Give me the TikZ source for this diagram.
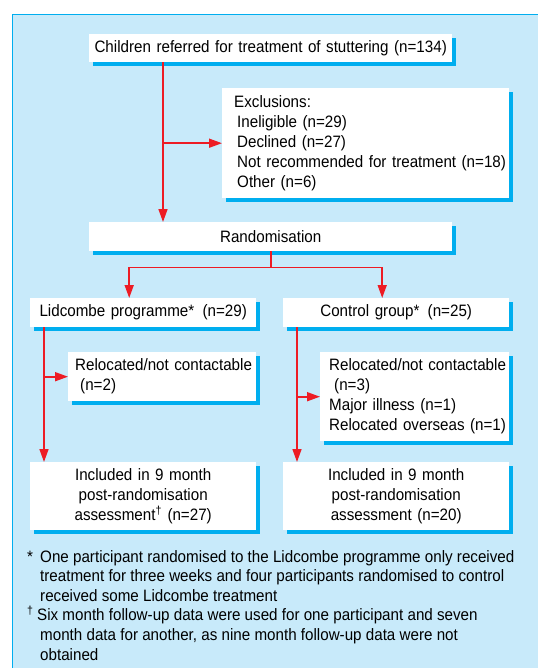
\documentclass[tikz,border=0pt]{standalone}
\usepackage{fontspec}
\setmainfont{Liberation Sans}[FakeStretch=0.92]
\usetikzlibrary{arrows.meta,shadows}
\definecolor{panelblue}{RGB}{200,234,250}
\definecolor{shadecyan}{RGB}{0,174,239}
\definecolor{flowred}{RGB}{237,28,36}
\tikzset{
  box/.style={
    fill=white,
    inner xsep=2pt,
    inner ysep=0pt,
    align=center,
    font=\fontsize{16.5}{20}\selectfont,
    general shadow={fill=shadecyan, shadow xshift=3.5pt, shadow yshift=-3.5pt}
  },
  listbox/.style={
    box,
    inner xsep=0pt,
    align=left
  },
  note/.style={
    inner sep=0pt,
    align=left,
    font=\fontsize{16.5}{19.6}\selectfont
  },
  flow/.style={
    -{Triangle[length=13pt,width=9pt]},
    line width=1.6pt,
    draw=flowred
  }
}

\begin{document}
\begin{tikzpicture}[x=1pt,y=-1pt]
  \useasboundingbox (0,0) rectangle (538,668);
  % panel
  \fill[panelblue] (12,15) rectangle (538,668);
  \draw[shadecyan, line width=1pt] (12,668) -- (12,15) -- (538,15);

  \node[box, anchor=north west, text width=359pt, minimum height=28pt] (refer) at (89,34) {Children referred for treatment of stuttering (n=134)};
  \node[listbox, anchor=north west, text width=287pt, minimum height=110pt] (excl) at (222,88) {\hspace*{12pt}Exclusions:\\\hspace*{15pt}Ineligible (n=29)\\\hspace*{15pt}Declined (n=27)\\\hspace*{15pt}\mbox{Not recommended for treatment (n=18)}\\\hspace*{15pt}Other (n=6)};
  \node[box, anchor=north west, text width=359pt, minimum height=29pt] (rand) at (89,222) {Randomisation};
  \node[box, anchor=north west, text width=222pt, minimum height=29pt] (lid) at (30,298) {Lidcombe programme*\, (n=29)};
  \node[box, anchor=north west, text width=222pt, minimum height=29pt] (ctrl) at (283,298) {Control group*\, (n=25)};
  \node[listbox, anchor=north west, text width=188pt, minimum height=49pt] (lostL) at (68,352) {\hspace*{7pt}Relocated/not contactable\\\hspace*{12pt}(n=2)};
  \node[listbox, anchor=north west, text width=189pt, minimum height=89pt] (lostR) at (320,352) {\hspace*{9pt}Relocated/not contactable\\\hspace*{14pt}(n=3)\\\hspace*{9pt}Major illness (n=1)\\\hspace*{9pt}Relocated overseas (n=1)};
  \node[box, anchor=north west, text width=222pt, minimum height=68pt] (inclL) at (30,462) {Included in 9 month\\post-randomisation\\assessment\textsuperscript{†} (n=27)};
  \node[box, anchor=north west, text width=222pt, minimum height=68pt] (inclR) at (283,462) {Included in 9 month\\post-randomisation\\assessment (n=20)};

  \node[note, anchor=north west] (notes) at (27,550) {\makebox[13pt][l]{*}One participant randomised to the Lidcombe programme only received\\
    \hspace*{13pt}treatment for three weeks and four participants randomised to control\\
    \hspace*{13pt}received some Lidcombe treatment\\
    \makebox[10pt][l]{\textsuperscript{†}}Six month follow-up data were used for one participant and seven\\
    \hspace*{13pt}month data for another, as nine month follow-up data were not\\
    \hspace*{13pt}obtained};

  \coordinate (trunk) at ([xshift=74pt]refer.south west);
  \coordinate (trunkL) at ([xshift=14pt]lid.south west);
  \coordinate (trunkR) at ([xshift=14pt]ctrl.south west);

  \draw[flow] (trunk) -- (trunk |- rand.north);
  \draw[flow] (trunk |- excl.west) -- (excl.west);
  \draw[flow] (rand.south) -- ++(0,16) -| ([xshift=-14pt]lid.north);
  \draw[flow] (rand.south) -- ++(0,16) -| ([xshift=-14pt]ctrl.north);
  \draw[flow] (trunkL) -- (trunkL |- inclL.north);
  \draw[flow] (trunkL |- lostL.west) -- (lostL.west);
  \draw[flow] (trunkR) -- (trunkR |- inclR.north);
  \draw[flow] (trunkR |- lostR.west) -- (lostR.west);
\end{tikzpicture}
\end{document}
